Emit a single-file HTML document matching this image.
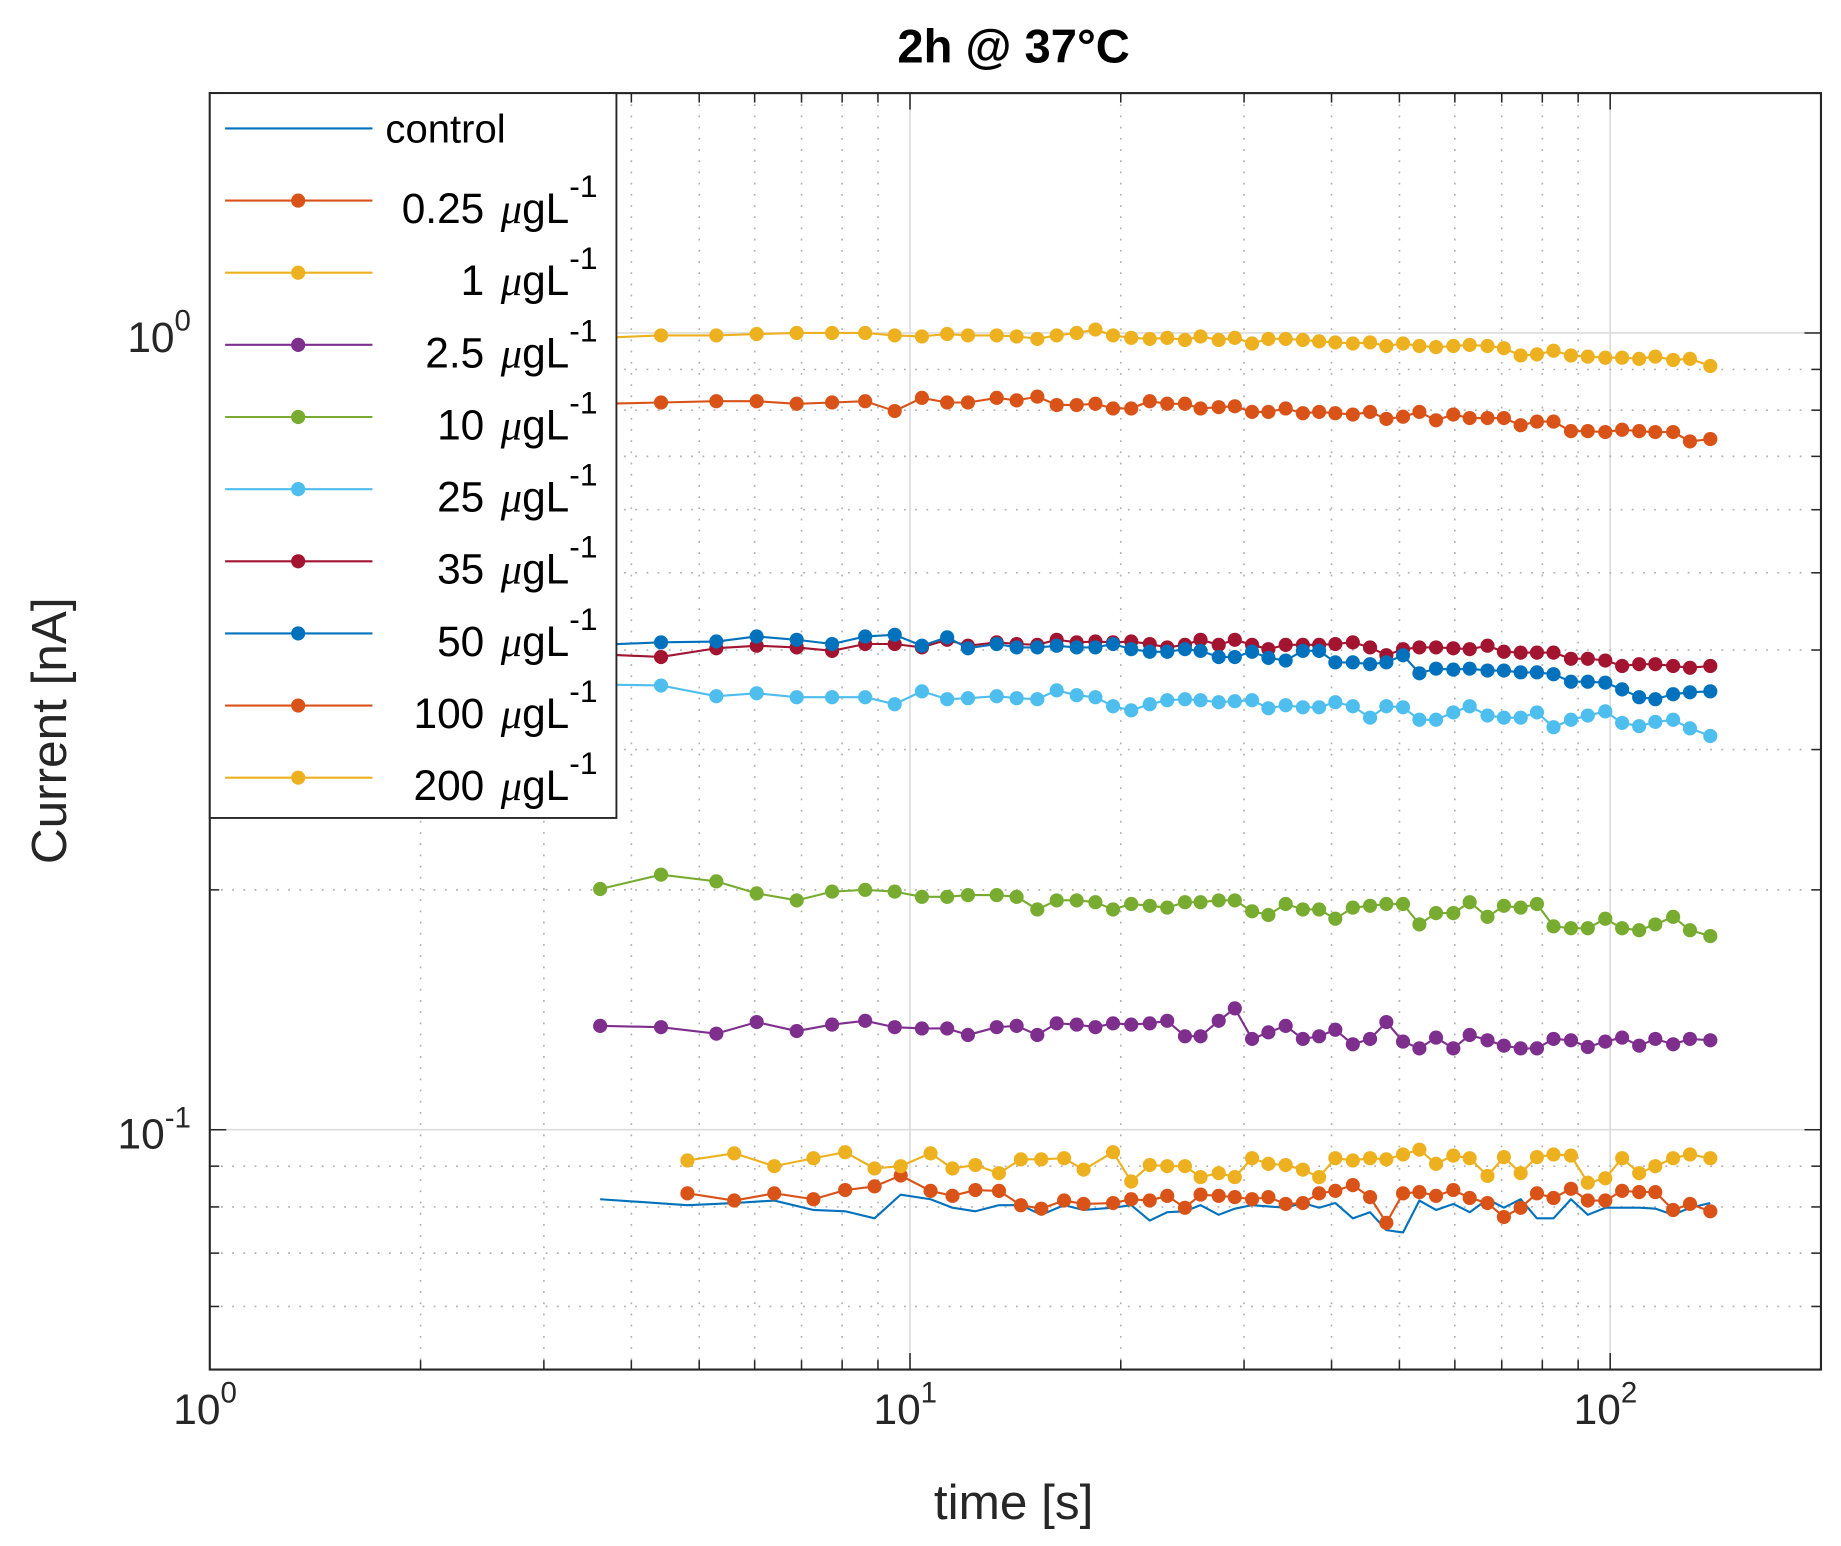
<!DOCTYPE html>
<html><head><meta charset="utf-8"><style>
html,body{margin:0;padding:0;background:#fff;}
svg{display:block;font-family:"Liberation Sans",Arial,sans-serif;}
</style></head><body>
<svg id="chart" width="1841" height="1546" viewBox="0 0 1562 1311.7" xmlns="http://www.w3.org/2000/svg">
<rect x="0" y="0" width="1562" height="1312" fill="#fff"/>
<g id="grid"></g>
<g id="series"></g>
<g id="axes"></g>
<text x="860" y="53" text-anchor="middle" font-size="40" font-weight="bold" fill="#000">2h @ 37°C</text>
<text x="860" y="1289" text-anchor="middle" font-size="42" fill="#262626">time [s]</text>
<text x="0" y="0" transform="translate(56,620) rotate(-90)" text-anchor="middle" font-size="42" fill="#262626">Current [nA]</text>
<g id="legend"></g>
</svg>
<script>
const times = [3.61,4.41,5.29,6.04,6.89,7.74,8.63,9.51,10.4,11.3,12.1,13.3,14.2,15.2,16.2,17.3,18.4,19.5,20.7,22.0,23.3,24.7,26.0,27.6,29.1,30.8,32.5,34.4,36.4,38.4,40.5,42.9,45.4,47.9,50.6,53.4,56.4,59.7,63.0,66.8,70.5,74.5,78.6,83.0,87.9,92.9,98.4,104,110,116,123,130,139];
const timesLow = [4.81,5.61,6.40,7.28,8.08,8.90,9.70,10.7,11.5,12.4,13.4,14.4,15.4,16.6,17.7,19.5,20.7,22.0,23.3,24.7,26.0,27.6,29.1,30.8,32.5,34.4,36.4,38.4,40.5,42.9,45.4,47.9,50.6,53.4,56.4,59.7,63.0,66.8,70.5,74.5,78.6,83.0,87.9,92.9,98.4,104,110,116,123,130,139];
const timesCtrl = [3.61,4.81,5.61,6.40,7.28,8.08,8.90,9.70,10.7,11.5,12.4,13.4,14.4,15.4,16.6,17.7,19.5,20.7,22.0,23.3,24.7,26.0,27.6,29.1,30.8,32.5,34.4,36.4,38.4,40.5,42.9,45.4,47.9,50.6,53.4,56.4,59.7,63.0,66.8,70.5,74.5,78.6,83.0,87.9,92.9,98.4,104,110,116,123,130,139];
const valControl = [0.0818,0.0804,0.0809,0.0815,0.0793,0.0790,0.0774,0.0829,0.0818,0.0798,0.0790,0.0804,0.0804,0.0782,0.0804,0.0793,0.0798,0.0804,0.0769,0.0788,0.0790,0.0804,0.0782,0.0796,0.0804,0.0801,0.0798,0.0809,0.0798,0.0809,0.0774,0.0788,0.0748,0.0743,0.0815,0.0793,0.0807,0.0788,0.0818,0.0798,0.0818,0.0774,0.0774,0.0818,0.0782,0.0798,0.0798,0.0798,0.0796,0.0782,0.0798,0.0809];
const val025 = [0.815,0.818,0.821,0.821,0.815,0.818,0.821,0.798,0.829,0.818,0.818,0.829,0.823,0.832,0.812,0.812,0.815,0.804,0.804,0.821,0.815,0.815,0.804,0.807,0.809,0.796,0.796,0.804,0.793,0.796,0.793,0.790,0.796,0.780,0.785,0.796,0.777,0.790,0.782,0.782,0.782,0.766,0.774,0.774,0.753,0.753,0.751,0.756,0.753,0.751,0.751,0.731,0.736];
const val1 = [0.986,0.993,0.993,0.997,1.0,1.0,1.0,0.993,0.990,0.997,0.993,0.993,0.990,0.983,0.993,1.0,1.01,0.993,0.986,0.983,0.986,0.980,0.990,0.980,0.986,0.970,0.983,0.983,0.980,0.976,0.973,0.970,0.973,0.963,0.970,0.963,0.960,0.963,0.966,0.963,0.957,0.937,0.940,0.950,0.937,0.934,0.931,0.931,0.928,0.934,0.925,0.928,0.909];
const val25 = [0.135,0.1345,0.132,0.1365,0.133,0.1355,0.137,0.1345,0.134,0.134,0.1315,0.1345,0.135,0.1315,0.136,0.1355,0.1345,0.136,0.1355,0.136,0.137,0.131,0.131,0.137,0.142,0.130,0.1325,0.135,0.130,0.131,0.1335,0.128,0.130,0.1365,0.129,0.1265,0.1305,0.1265,0.1315,0.1295,0.1275,0.1265,0.1265,0.130,0.1295,0.127,0.129,0.1305,0.1275,0.130,0.128,0.130,0.1295];
const val10 = [0.2005,0.209,0.205,0.198,0.194,0.199,0.200,0.199,0.196,0.196,0.197,0.197,0.196,0.189,0.194,0.194,0.193,0.189,0.192,0.191,0.190,0.193,0.193,0.194,0.194,0.188,0.186,0.192,0.189,0.189,0.184,0.190,0.191,0.192,0.192,0.181,0.187,0.187,0.193,0.185,0.191,0.190,0.192,0.180,0.179,0.179,0.184,0.179,0.178,0.181,0.185,0.178,0.175];
const val25b = [0.362,0.361,0.350,0.353,0.349,0.349,0.349,0.342,0.355,0.347,0.348,0.350,0.348,0.347,0.356,0.351,0.349,0.340,0.336,0.342,0.346,0.347,0.346,0.344,0.345,0.346,0.338,0.341,0.339,0.339,0.344,0.340,0.329,0.340,0.339,0.327,0.327,0.334,0.340,0.331,0.329,0.329,0.334,0.320,0.327,0.331,0.335,0.324,0.321,0.325,0.327,0.319,0.312];
const val35 = [0.395,0.392,0.402,0.405,0.403,0.399,0.407,0.407,0.403,0.412,0.405,0.409,0.407,0.406,0.412,0.409,0.410,0.409,0.410,0.407,0.403,0.406,0.412,0.406,0.412,0.406,0.401,0.406,0.406,0.406,0.407,0.409,0.403,0.394,0.401,0.403,0.403,0.402,0.401,0.405,0.398,0.397,0.397,0.397,0.390,0.390,0.388,0.382,0.384,0.384,0.382,0.380,0.382];
const val50 = [0.406,0.409,0.410,0.416,0.412,0.407,0.416,0.418,0.405,0.415,0.402,0.407,0.403,0.403,0.405,0.403,0.403,0.407,0.401,0.398,0.398,0.401,0.399,0.392,0.392,0.398,0.391,0.388,0.399,0.399,0.386,0.386,0.384,0.386,0.394,0.374,0.379,0.378,0.379,0.377,0.377,0.375,0.375,0.373,0.365,0.365,0.364,0.357,0.349,0.347,0.352,0.354,0.355];
const val100 = [0.0832,0.0815,0.0832,0.0818,0.0840,0.0849,0.0876,0.0838,0.0826,0.0840,0.0838,0.0804,0.0796,0.0815,0.0807,0.0809,0.0818,0.0815,0.0826,0.0798,0.0829,0.0826,0.0823,0.0818,0.0823,0.0807,0.0809,0.0832,0.0838,0.0852,0.0823,0.0764,0.0832,0.0835,0.0826,0.0840,0.0821,0.0809,0.0777,0.0798,0.0832,0.0821,0.0843,0.0815,0.0815,0.0838,0.0835,0.0835,0.0793,0.0807,0.0790];
const val200 = [0.0915,0.0934,0.0900,0.0921,0.0937,0.0894,0.0900,0.0934,0.0894,0.0903,0.0882,0.0918,0.0918,0.0921,0.0891,0.0937,0.0861,0.0903,0.0900,0.0900,0.0872,0.0882,0.0872,0.0921,0.0906,0.0903,0.0891,0.0872,0.0921,0.0915,0.0921,0.0918,0.0931,0.0944,0.0906,0.0928,0.0921,0.0875,0.0924,0.0882,0.0924,0.0931,0.0928,0.0858,0.0869,0.0921,0.0882,0.0900,0.0921,0.0931,0.0921];
const seriesLabels = ["control","0.25","1","2.5","10","25","35","50","100","200"];
const seriesColors = ["#0072BD","#D95319","#EDB120","#7E2F8E","#77AC30","#4DBEEE","#A2142F","#0072BD","#D95319","#EDB120"];
const xTickExps = [0,1,2];
const yTickExps = [0,-1];

const NS = "http://www.w3.org/2000/svg";
const PL = 178, PR = 1545, PT = 79, PB = 1162;
const XMIN = 1, XMAX = 200, YMIN = 0.05, YMAX = 2;
function X(t){ return PL + (PR-PL)*(Math.log10(t)-Math.log10(XMIN))/(Math.log10(XMAX)-Math.log10(XMIN)); }
function Y(v){ return PB - (PB-PT)*(Math.log10(v)-Math.log10(YMIN))/(Math.log10(YMAX)-Math.log10(YMIN)); }
function mk(tag, attrs, parent){ const e=document.createElementNS(NS,tag); for(const k in attrs) e.setAttribute(k,attrs[k]); parent.appendChild(e); return e; }

const grid = document.getElementById('grid');
const axes = document.getElementById('axes');
const xMinor = [], xMajor = [];
for (let d=1; d<=100; d*=10) for (let m=1; m<=9; m++){ const t=d*m; if (t<=XMAX && t>XMIN){ (m===1?xMajor:xMinor).push(t);} }
xMinor.push(200);
const yMinor = [], yMajor = [];
for (let d=0.01; d<=1.01; d*=10) for (let m=1; m<=9; m++){ const v=d*m; if (v>=YMIN-1e-9 && v<=YMAX+1e-9){ (m===1?yMajor:yMinor).push(v);} }
xMinor.forEach(t=>{
  const l = mk('line',{x1:X(t),x2:X(t),y1:PT,y2:PB,stroke:'#b0b0b0','stroke-width':1.4,'stroke-dasharray':'1.5,8'},grid);
  
  
});
xMajor.forEach(t=>{
  const l = mk('line',{x1:X(t),x2:X(t),y1:PT,y2:PB,stroke:'#dcdcdc','stroke-width':1.4},grid);
  
  
});
yMinor.forEach(v=>{
  const l = mk('line',{x1:PL,x2:PR,y1:Y(v),y2:Y(v),stroke:'#b0b0b0','stroke-width':1.4,'stroke-dasharray':'1.5,8'},grid);
  
  
});
yMajor.forEach(v=>{
  const l = mk('line',{x1:PL,x2:PR,y1:Y(v),y2:Y(v),stroke:'#dcdcdc','stroke-width':1.4},grid);
  
  
});

const seriesLayer = document.getElementById('series');
const seriesDefs = [
  {t:timesCtrl, v:valControl, marker:false},
  {t:times, v:val025, marker:true},
  {t:times, v:val1, marker:true},
  {t:times, v:val25, marker:true},
  {t:times, v:val10, marker:true},
  {t:times, v:val25b, marker:true},
  {t:times, v:val35, marker:true},
  {t:times, v:val50, marker:true},
  {t:timesLow, v:val100, marker:true},
  {t:timesLow, v:val200, marker:true}
];
seriesDefs.forEach((s,i)=>{
  const g = mk('g',{},seriesLayer);
  
  
  const pts = s.t.map((t,j)=>X(t).toFixed(1)+','+Y(s.v[j]).toFixed(1)).join(' ');
  const pl = mk('polyline',{points:pts,fill:'none',stroke:seriesColors[i],'stroke-width':1.8,'stroke-linejoin':'round'},g);
  
  
  if (s.marker) s.t.forEach((t,j)=>{
    const c = mk('circle',{cx:X(t),cy:Y(s.v[j]),r:6,fill:seriesColors[i]},g);
    
    
  });
});

const box = mk('rect',{x:PL,y:PT,width:PR-PL,height:PB-PT,fill:'none',stroke:'#262626','stroke-width':1.8},axes);


xMinor.concat(xMajor).forEach(t=>{
  const len = xMajor.includes(t)?14:8;
  const a = mk('line',{x1:X(t),x2:X(t),y1:PB,y2:PB-len,stroke:'#262626','stroke-width':1.3},axes);
  
  
  const b = mk('line',{x1:X(t),x2:X(t),y1:PT,y2:PT+len,stroke:'#262626','stroke-width':1.3},axes);
  
  
});
yMinor.concat(yMajor).forEach(v=>{
  const len = yMajor.includes(v)?14:8;
  const a = mk('line',{x1:PL,x2:PL+len,y1:Y(v),y2:Y(v),stroke:'#262626','stroke-width':1.3},axes);
  
  
  const b = mk('line',{x1:PR,x2:PR-len,y1:Y(v),y2:Y(v),stroke:'#262626','stroke-width':1.3},axes);
  
  
});
xTickExps.forEach(e=>{
  const tx = mk('text',{x:X(Math.pow(10,e))-4,y:1208,'text-anchor':'middle','font-size':36,fill:'#262626'},axes);
  
  
  tx.innerHTML = '10<tspan dy="-18" font-size="25">'+e+'</tspan>';
});
yTickExps.forEach(e=>{
  const tx = mk('text',{x:162,y:Y(Math.pow(10,e))+16,'text-anchor':'end','font-size':36,fill:'#262626'},axes);
  
  
  tx.innerHTML = '10<tspan dy="-18" font-size="25">'+e+'</tspan>';
});

const lg = document.getElementById('legend');
const lbox = mk('rect',{x:PL,y:PT,width:345,height:615,fill:'#fff',stroke:'#262626','stroke-width':1.6},lg);


seriesLabels.forEach((lab,i)=>{
  const cy = 109 + i*61.2;
  const g = mk('g',{},lg);
  
  
  mk('line',{x1:191,x2:316,y1:cy,y2:cy,stroke:seriesColors[i],'stroke-width':1.8},g);
  if (i>0) mk('circle',{cx:253,cy:cy,r:6,fill:seriesColors[i]},g);
  if (i===0){
    const t = mk('text',{x:327,y:cy+12,'font-size':34,fill:'#000'},g);
    t.textContent = 'control';
  } else {
    const t = mk('text',{x:507,y:cy+19,'text-anchor':'end','font-size':36,fill:'#000'},g);
    t.innerHTML = lab+'<tspan dx="14" font-family="Liberation Serif, serif" font-style="italic">μ</tspan>gL<tspan dy="-22" font-size="27">-1</tspan>';
  }
});
</script>
</body></html>
